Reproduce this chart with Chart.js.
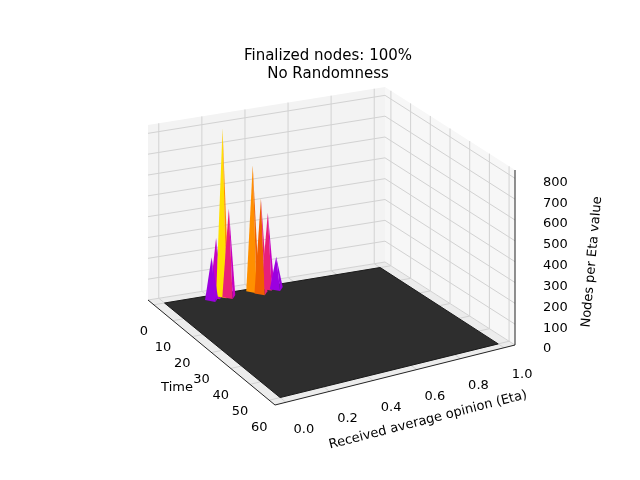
<!DOCTYPE html>
<html><head><meta charset="utf-8">
<script src="https://cdn.jsdelivr.net/npm/chart.js@4"></script>
<style>body{margin:0;background:#fff}canvas{display:block}</style>
</head><body><canvas id="c" width="640" height="480"></canvas>
<script>
const titleLines = ["Finalized nodes: 100%", "No Randomness"];
const timeTicks = [0,10,20,30,40,50,60];
const etaTicks = [0.0,0.2,0.4,0.6,0.8,1.0];
const zTicks = [0,100,200,300,400,500,600,700,800];
const spikeTime   = [2, 1, 1, 2, 1, 3, 1, 2];
const spikeEta    = [0.20,0.23,0.26,0.28,0.40,0.42,0.47,0.50];
const spikeHeight = [200, 280, 800, 420, 600, 450, 360, 150];

const T0=-3,T1=63,E0=-0.05,E1=1.05,ZMAX=840;
const C00=[148,300],C10=[275,405],C11=[515,345],C01=[385,262];
function P(t,e,z){
  const u=(t-T0)/(T1-T0), v=(e-E0)/(E1-E0);
  const x=C00[0]*(1-u)*(1-v)+C10[0]*u*(1-v)+C11[0]*u*v+C01[0]*(1-u)*v;
  const y=C00[1]*(1-u)*(1-v)+C10[1]*u*(1-v)+C11[1]*u*v+C01[1]*(1-u)*v;
  return {x:x,y:y-z/ZMAX*175};
}
const ds=[];
function poly(pts,fill,stroke,w){ds.push({data:pts,showLine:true,pointRadius:0,borderColor:stroke||'rgba(0,0,0,0)',borderWidth:w||0,polyFill:fill||null,fill:false,tension:0,order:5000-ds.length});}
function line(pts,c,w){poly(pts,null,c,w);}
poly([P(T0,E0,0),P(T0,E1,0),P(T1,E1,0),P(T1,E0,0),P(T0,E0,0)],'#ececec');
poly([P(T0,E0,0),P(T0,E1,0),P(T0,E1,ZMAX),P(T0,E0,ZMAX),P(T0,E0,0)],'#f3f3f3');
poly([P(T0,E1,0),P(T1,E1,0),P(T1,E1,ZMAX),P(T0,E1,ZMAX),P(T0,E1,0)],'#f7f7f7');
const g='#d2d2d2';
timeTicks.forEach(t=>{line([P(t,E0,0),P(t,E1,0),P(t,E1,ZMAX)],g,1);});
etaTicks.forEach(e=>{line([P(T1,e,0),P(T0,e,0),P(T0,e,ZMAX)],g,1);});
zTicks.forEach(z=>{line([P(T0,E0,z),P(T0,E1,z),P(T1,E1,z)],g,1);});
poly([P(0,0,0),P(0,1,0),P(60,1,0),P(60,0,0),P(0,0,0)],'#2e2e2e','#1a1a1a',1);
const pal=['#6a00ff','#9b00e0','#c800c0','#e8207a','#f06000','#ff9000','#ffe000'];
function col(h){return pal[Math.min(pal.length-1,Math.floor(h/760*pal.length))];}
const order=spikeTime.map((t,i)=>i).sort((a,b)=>spikeTime[a]-spikeTime[b]||spikeEta[a]-spikeEta[b]);
order.forEach(i=>{
  const t=spikeTime[i],e=spikeEta[i],h=spikeHeight[i],w=0.03;
  poly([P(t,e-w,0),P(t,e,h),P(t+2,e,0),P(t,e-w,0)],col(h),null);
  poly([P(t+2,e,0),P(t,e,h),P(t,e+w,0),P(t+2,e,0)],col(h*0.75),null);
});
line([P(T0,E0,0),P(T1,E0,0)],'#222',1);
line([P(T1,E0,0),P(T1,E1,0)],'#222',1);
line([P(T1,E1,0),P(T1,E1,ZMAX)],'#222',1);

const fillPlugin={id:'polyFill',beforeDatasetDraw(chart,args){
  const d=chart.data.datasets[args.index];if(!d.polyFill)return;
  const pts=chart.getDatasetMeta(args.index).data;const ctx=chart.ctx;
  ctx.save();ctx.beginPath();pts.forEach((p,k)=>k?ctx.lineTo(p.x,p.y):ctx.moveTo(p.x,p.y));
  ctx.closePath();ctx.fillStyle=d.polyFill;ctx.fill();ctx.restore();}};
const textPlugin={id:'texts',afterDraw(chart){
  const ctx=chart.ctx,sx=chart.scales.x,sy=chart.scales.y;
  const px=p=>[sx.getPixelForValue(p.x),sy.getPixelForValue(p.y)];
  ctx.save();ctx.fillStyle='#000';ctx.font='15px "DejaVu Sans"';ctx.textAlign='center';ctx.textBaseline='middle';
  ctx.fillText(titleLines[0],328,56);ctx.fillText(titleLines[1],328,74);
  ctx.font='13px "DejaVu Sans"';
  timeTicks.forEach(t=>{const [x,y]=px(P(t,E0,0));ctx.fillText(String(t),x-10,y+27);});
  etaTicks.forEach(e=>{const [x,y]=px(P(T1,e,0));ctx.fillText(e.toFixed(1),x+18,y+27);});
  zTicks.forEach(z=>{const [x,y]=px(P(T1,E1,z));ctx.textAlign='left';ctx.fillText(String(z),x+28,y+4);});
  ctx.textAlign='center';
  ctx.fillText('Time',177,388);
  ctx.save();ctx.translate(428,420);ctx.rotate(-0.25);ctx.fillText('Received average opinion (Eta)',0,0);ctx.restore();
  ctx.save();ctx.translate(592,262);ctx.rotate(-1.48);ctx.fillText('Nodes per Eta value',0,0);ctx.restore();
  ctx.restore();}};
new Chart(document.getElementById('c'),{type:'scatter',data:{datasets:ds},
 options:{responsive:false,animation:false,events:[],layout:{padding:0},
  plugins:{legend:{display:false},tooltip:{enabled:false}},
  scales:{x:{type:'linear',min:0,max:640,display:false},y:{type:'linear',min:0,max:480,reverse:true,display:false}}},
 plugins:[fillPlugin,textPlugin]});
</script></body></html>
